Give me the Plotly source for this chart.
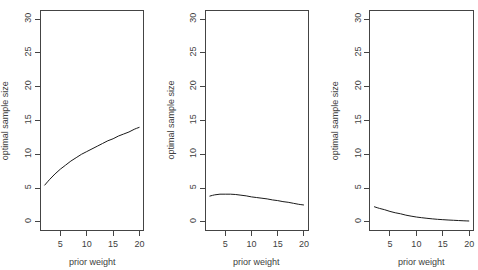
import plotly.graph_objects as go

prior_weight = list(range(2, 21))
panel1 = [5.4, 6.3, 7.1, 7.8, 8.4, 9.0, 9.5, 10.0, 10.4, 10.8, 11.2, 11.6, 12.0, 12.3, 12.7, 13.0, 13.3, 13.7, 14.0]
panel2 = [3.8, 4.0, 4.1, 4.1, 4.1, 4.05, 3.95, 3.85, 3.7, 3.6, 3.5, 3.4, 3.25, 3.15, 3.0, 2.9, 2.75, 2.6, 2.5]
panel3 = [2.25, 2.0, 1.8, 1.55, 1.35, 1.2, 1.0, 0.85, 0.72, 0.62, 0.53, 0.45, 0.38, 0.33, 0.28, 0.24, 0.2, 0.16, 0.13]
x_ticks = [5, 10, 15, 20]
y_ticks = [0, 5, 10, 15, 20, 25, 30]
x_title = "prior weight"
y_title = "optimal sample size"

W, H = 478, 270
boxes = [(40.7, 143.3), (205.7, 307.7), (370.3, 473.0)]
ytitle_x = [4.7, 170.0, 334.7]
top_px, bot_px = 11, 230
ydom = [1 - bot_px / H, 1 - top_px / H]

fig = go.Figure()
font = dict(family="Liberation Sans, Arial, sans-serif", size=9, color="#404040")
axcol = "#444444"

for i, (vals, (l, r)) in enumerate(zip([panel1, panel2, panel3], boxes)):
    n = "" if i == 0 else str(i + 1)
    fig.add_trace(go.Scatter(x=prior_weight, y=vals, mode="lines",
                             line=dict(color="#1a1a1a", width=1, shape="spline"),
                             xaxis="x" + n, yaxis="y" + n, showlegend=False))
    fig.layout["xaxis" + n] = dict(domain=[l / W, r / W], range=[1.28, 20.72],
                                   anchor="y" + n, tickvals=x_ticks, ticks="outside",
                                   ticklen=5, tickcolor=axcol, showline=True, mirror=True,
                                   linecolor=axcol, linewidth=1, showgrid=False,
                                   zeroline=False, tickfont=font)
    fig.layout["yaxis" + n] = dict(domain=ydom, range=[-1.2, 31.2], anchor="x" + n,
                                   tickvals=y_ticks, ticks="outside", ticklen=5,
                                   tickcolor=axcol, showline=True, mirror=True,
                                   linecolor=axcol, linewidth=1, showgrid=False,
                                   zeroline=False, tickangle=-90, tickfont=font)
    fig.add_annotation(text=y_title, x=ytitle_x[i] / W, y=(1 - (top_px + bot_px) / 2 / H),
                       xref="paper", yref="paper", textangle=-90, showarrow=False,
                       font=font, xanchor="center", yanchor="middle")
    fig.add_annotation(text=x_title, x=(l + r) / 2 / W, y=1 - 269 / H,
                       xref="paper", yref="paper", showarrow=False,
                       font=font, xanchor="center", yanchor="bottom")

fig.update_layout(width=W, height=H, margin=dict(l=0, r=0, t=0, b=0),
                  paper_bgcolor="white", plot_bgcolor="white")
fig.write_html("out.html")
